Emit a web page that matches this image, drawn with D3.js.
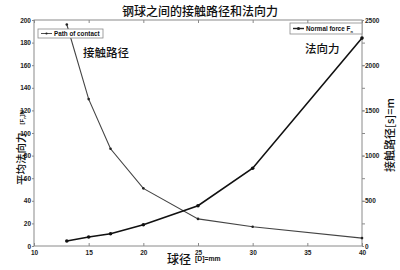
<!DOCTYPE html>
<html><head><meta charset="utf-8">
<script src="https://cdn.jsdelivr.net/npm/d3@7"></script>
<style>body{margin:0;background:#fff}svg{display:block}</style>
</head><body>
<script>
const diameters = [13, 15, 17, 20, 25, 30, 40];
const pathOfContact = [196, 130, 86, 51, 24, 17, 7];
const normalForce = [55, 100, 135, 235, 445, 860, 2300];
const xTicks = [10, 15, 20, 25, 30, 35, 40];
const leftTicks = [0, 20, 40, 60, 80, 100, 120, 140, 160, 180, 200];
const rightTicks = [0, 500, 1000, 1500, 2000, 2500];

const W = 400, H = 270;
const L = 34, R = 362, T = 20, B = 246;
const svg = d3.select("body").append("svg").attr("width", W).attr("height", H);
const x = d3.scaleLinear().domain([10, 40]).range([L, R]);
const yL = d3.scaleLinear().domain([0, 200]).range([B, T]);
const yR = d3.scaleLinear().domain([0, 2500]).range([B, T]);
const axisColor = "#8a8a8a";
const fontT = "Arial, 'Liberation Sans', sans-serif";

// frame
svg.append("rect").attr("x", L).attr("y", T).attr("width", R - L).attr("height", B - T)
  .attr("fill", "none").attr("stroke", axisColor).attr("stroke-width", 1);

function styleAxis(g) {
  g.select(".domain").remove();
  g.selectAll(".tick line").attr("stroke", axisColor);
  g.selectAll(".tick text").attr("font-family", fontT).attr("font-size", 6.5)
    .attr("font-weight", "bold").attr("fill", "#222");
}
// bottom
svg.append("g").attr("transform", `translate(0,${B})`)
  .call(d3.axisBottom(x).tickValues(xTicks).tickSizeInner(-3).tickPadding(4))
  .call(styleAxis);
// top ticks
svg.append("g").attr("transform", `translate(0,${T})`)
  .call(d3.axisTop(x).tickValues(xTicks).tickSizeInner(-3).tickFormat(""))
  .call(styleAxis);
// left
svg.append("g").attr("transform", `translate(${L},0)`)
  .call(d3.axisLeft(yL).tickValues(leftTicks).tickSizeInner(2).tickPadding(1))
  .call(styleAxis);
// right
svg.append("g").attr("transform", `translate(${R},0)`)
  .call(d3.axisRight(yR).tickValues(rightTicks).tickFormat(d3.format("d")).tickSizeInner(2).tickPadding(1))
  .call(styleAxis);
svg.append("g").attr("transform", `translate(${R},0)`)
  .call(d3.axisLeft(yR).tickValues(d3.range(250, 2500, 250)).tickSizeInner(-3).tickFormat(""))
  .call(styleAxis);

// lines
const lineL = d3.line().x((d, i) => x(diameters[i])).y(d => yL(d));
const lineR = d3.line().x((d, i) => x(diameters[i])).y(d => yR(d));
svg.append("path").datum(pathOfContact).attr("d", lineL).attr("fill", "none")
  .attr("stroke", "#444").attr("stroke-width", 1.1);
svg.selectAll(".mL").data(pathOfContact).enter().append("circle")
  .attr("cx", (d, i) => x(diameters[i])).attr("cy", d => yL(d)).attr("r", 1.3).attr("fill", "#222");
svg.append("path").datum(normalForce).attr("d", lineR).attr("fill", "none")
  .attr("stroke", "#111").attr("stroke-width", 1.6);
svg.selectAll(".mR").data(normalForce).enter().append("circle")
  .attr("cx", (d, i) => x(diameters[i])).attr("cy", d => yR(d)).attr("r", 1.8).attr("fill", "#111");

// legends
function legend(x0, y0, w, h, label, sub, strong) {
  const g = svg.append("g");
  g.append("rect").attr("x", x0).attr("y", y0).attr("width", w).attr("height", h)
    .attr("fill", "#fff").attr("stroke", axisColor).attr("stroke-width", 0.8);
  g.append("line").attr("x1", x0 + 3).attr("x2", x0 + 14).attr("y1", y0 + h / 2).attr("y2", y0 + h / 2)
    .attr("stroke", "#222").attr("stroke-width", strong ? 1.4 : 0.8);
  g.append("circle").attr("cx", x0 + 8.5).attr("cy", y0 + h / 2).attr("r", strong ? 1.6 : 1.1).attr("fill", "#222");
  const t = g.append("text").attr("x", x0 + 16).attr("y", y0 + h / 2 + 2.3)
    .attr("font-family", fontT).attr("font-size", 6.3).attr("font-weight", "bold").attr("fill", "#111").text(label);
  if (sub) t.append("tspan").attr("font-size", 4).attr("dy", 2).text(sub);
}
legend(38, 29, 65, 9, "Path of contact", null, false);
legend(290, 23, 72, 11, "Normal force F", "n", true);

// title
const cjk = "'Noto Sans CJK SC', sans-serif";
svg.append("text").attr("x", 200).attr("y", 16).attr("text-anchor", "middle")
  .attr("font-family", cjk).attr("font-size", 12).attr("font-weight", 500).attr("fill", "#111").text("钢球之间的接触路径和法向力");

// annotations
svg.append("text").attr("x", 83).attr("y", 57).attr("font-family", cjk).attr("font-size", 11.5)
  .attr("font-weight", 500).attr("fill", "#111").text("接触路径");
svg.append("text").attr("x", 305).attr("y", 53).attr("font-family", cjk).attr("font-size", 11.5)
  .attr("font-weight", 500).attr("fill", "#111").text("法向力");

// x label
svg.append("text").attr("x", 167).attr("y", 264)
  .attr("font-family", cjk).attr("font-size", 12).attr("font-weight", 500).attr("fill", "#111").text("球径");
svg.append("text").attr("x", 195).attr("y", 261).attr("font-family", fontT).attr("font-size", 6.8)
  .attr("font-weight", "bold").attr("fill", "#111").text("[D]=mm");

// left y label
const ly = svg.append("text").attr("transform", "translate(25,185) rotate(-90)").attr("text-anchor", "start")
  .attr("font-family", cjk).attr("fill", "#111");
ly.append("tspan").attr("font-size", 10.5).attr("font-weight", 500).text("平均法向力");
ly.append("tspan").attr("font-family", fontT).attr("font-size", 6).attr("font-weight", "bold").attr("dx", 8).attr("dy", -1).text("[F");
ly.append("tspan").attr("font-family", fontT).attr("font-size", 4).attr("font-weight", "bold").attr("dy", 1.5).text("n");
ly.append("tspan").attr("font-family", fontT).attr("font-size", 6).attr("font-weight", "bold").attr("dy", -1.5).text("]N");

// right y label
svg.append("text").attr("transform", "translate(394,135) rotate(-90)").attr("text-anchor", "middle")
  .attr("font-family", cjk).attr("font-size", 11).attr("font-weight", 500).attr("fill", "#111").text("接触路径[s]=m");
</script>
</body></html>
